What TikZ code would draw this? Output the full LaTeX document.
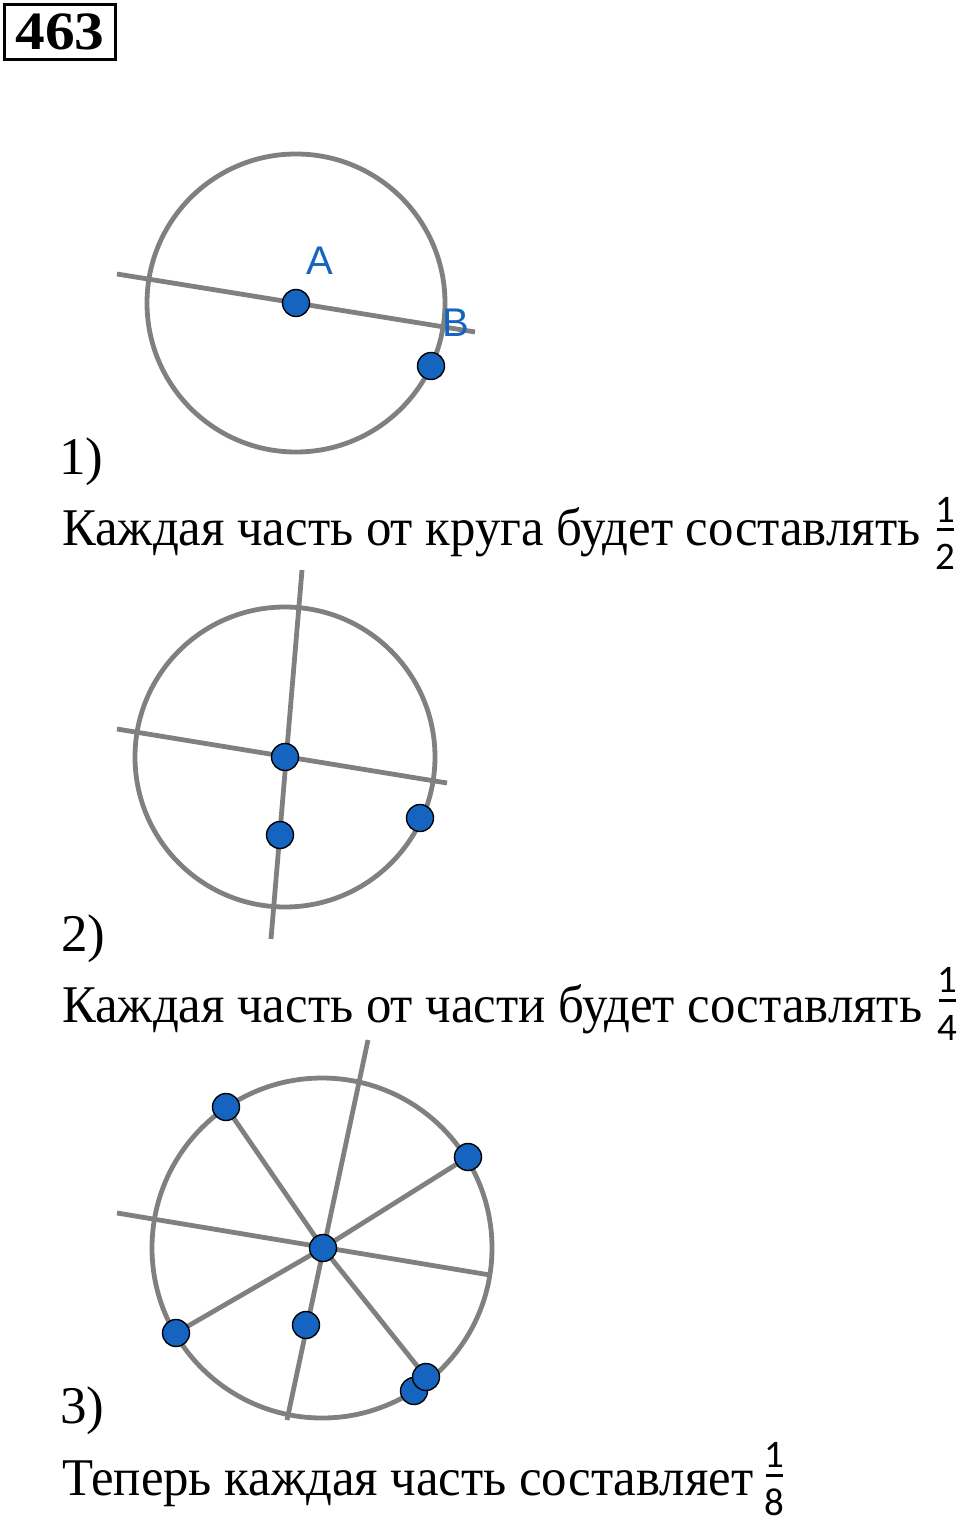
\documentclass[tikz,border=0pt]{standalone}
\usepackage{fontspec}
\setmainfont{Liberation Serif}
\newfontfamily\labelfont{Liberation Sans}
\newfontfamily\fracfont{Carlito}
\definecolor{ptblue}{RGB}{21,101,192}
\definecolor{lgray}{RGB}{128,128,128}
\newcommand\narrowtext[1]{\scalebox{0.958}[1]{#1}}
\begin{document}
\begin{tikzpicture}[x=1pt,y=-1pt,
  geo/.style={draw=lgray,line width=4.8pt},
  pt/.style={circle,fill=ptblue,draw=black,line width=1.4pt,inner sep=0pt,minimum size=27pt},
  lbl/.style={text=ptblue,font=\labelfont\fontsize{40}{44}\selectfont,inner sep=0pt},
  txt/.style={anchor=base west,inner sep=0pt,font=\fontsize{53}{60}\selectfont},
  num/.style={inner sep=0pt,font=\fracfont\fontsize{39}{40}\selectfont},
  fbar/.style={line width=3pt}]
\useasboundingbox (0,0) rectangle (960,1522);
% header
\node[draw,line width=3.2pt,inner sep=0pt,minimum width=111pt,minimum height=55pt,
      font=\bfseries\fontsize{54}{56}\selectfont] (hdr) at (60,32) {\scalebox{1.1}[1]{463}};
% ---------- figure 1
\coordinate (c1) at (296,303);
\coordinate (l1a) at (117,274);
\coordinate (l1b) at (475,332);
\draw[geo] (c1) circle[radius=149];
\draw[geo] (l1a) -- (l1b);
\node[pt] (A1) at (c1) {};
\node[pt] (B1) at (431,366) {};
\node[lbl] (labA) at (320,261) {A};
\node[lbl] (labB) at (456,323) {B};
% ---------- figure 2
\coordinate (c2) at (285,757);
\coordinate (m2a) at (117,729);
\coordinate (m2b) at (447,783);
\coordinate (v2a) at (302,570);
\coordinate (v2b) at (271,939);
\draw[geo] (c2) circle[radius=150];
\draw[geo] (m2a) -- (m2b);
\draw[geo] (v2a) -- (v2b);
\node[pt] (A2) at (c2) {};
\node[pt] (P2a) at (280,835) {};
\node[pt] (P2b) at (420,818) {};
% ---------- figure 3
\coordinate (k3) at (322,1248);
\coordinate (c3) at (323,1248);
\coordinate (m3a) at (117,1213);
\coordinate (m3b) at (490,1275);
\coordinate (v3a) at (368,1040);
\coordinate (v3b) at (287,1420);
\coordinate (q1) at (226,1107);
\coordinate (q2) at (468,1157);
\coordinate (q3) at (176,1333);
\coordinate (q4) at (426,1377);
\coordinate (q5) at (414,1391);
\coordinate (q6) at (306,1325);
\draw[geo] (k3) circle[radius=170];
\draw[geo] (m3a) -- (m3b);
\draw[geo] (v3a) -- (v3b);
\draw[geo] (c3) -- (q1);
\draw[geo] (c3) -- (q2);
\draw[geo] (c3) -- (q3);
\draw[geo] (c3) -- (q4);
\node[pt] (A3) at (c3) {};
\node[pt] (P31) at (q1) {};
\node[pt] (P32) at (q2) {};
\node[pt] (P33) at (q3) {};
\node[pt] (P35) at (q5) {};
\node[pt] (P34) at (q4) {};
\node[pt] (P36) at (q6) {};
% ---------- texts
\node[txt] (n1) at (59,474) {1)};
\node[txt] (t1) at (62,545) {\narrowtext{Каждая часть от круга будет составлять}};
\node[num] (f1n) at (945,510) {1};
\coordinate (f1a) at (937,529); \coordinate (f1b) at (954,529);
\draw[fbar] (f1a) -- (f1b);
\node[num] (f1d) at (945,557) {2};

\node[txt] (n2) at (61,951) {2)};
\node[txt] (t2) at (62,1022) {\narrowtext{Каждая часть от части будет составлять}};
\node[num] (f2n) at (947,980) {1};
\coordinate (f2a) at (939,1000); \coordinate (f2b) at (956,1000);
\draw[fbar] (f2a) -- (f2b);
\node[num] (f2d) at (947,1028) {4};

\node[txt] (n3) at (60,1423) {3)};
\node[txt] (t3) at (62,1495) {\narrowtext{Теперь каждая часть составляет}};
\node[num] (f3n) at (774,1455) {1};
\coordinate (f3a) at (766,1475); \coordinate (f3b) at (783,1475);
\draw[fbar] (f3a) -- (f3b);
\node[num] (f3d) at (774,1502) {8};
\end{tikzpicture}
\end{document}
